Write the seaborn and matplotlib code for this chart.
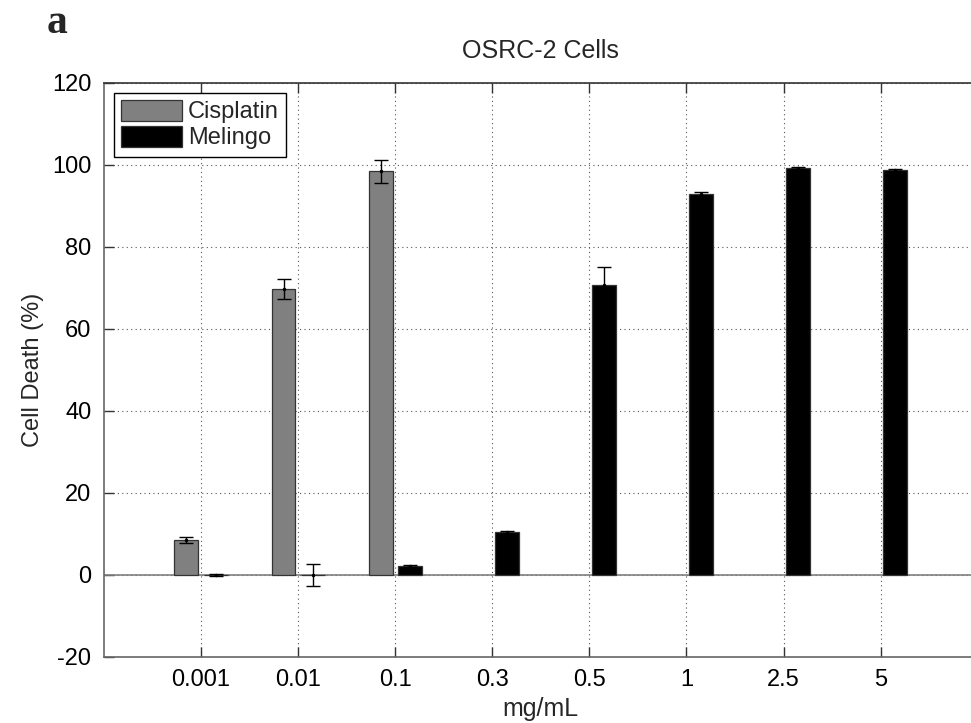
import numpy as np
import pandas as pd
import matplotlib
matplotlib.use("Agg")
import matplotlib.pyplot as plt
import seaborn as sns

# data
conc = ["0.001", "0.01", "0.1", "0.3", "0.5", "1", "2.5", "5"]
drugs = ["Cisplatin", "Melingo"]
cisplatin = [8.5, 69.8, 98.4, np.nan, np.nan, np.nan, np.nan, np.nan]
cisplatin_err = [0.7, 2.4, 2.8, np.nan, np.nan, np.nan, np.nan, np.nan]
melingo = [0.0, 0.05, 2.2, 10.4, 70.8, 92.8, 99.2, 98.7]
melingo_err = [0.15, 2.75, 0.25, 0.3, 4.3, 0.5, 0.3, 0.3]
colors = {"Cisplatin": "#808080", "Melingo": "#000000"}

df = pd.DataFrame({
    "conc": conc * 2,
    "drug": ["Cisplatin"] * len(conc) + ["Melingo"] * len(conc),
    "value": cisplatin + melingo,
})
errs = {"Cisplatin": dict(zip(conc, cisplatin_err)), "Melingo": dict(zip(conc, melingo_err))}

sns.set_style("ticks")
plt.rcParams["font.family"] = ["Liberation Sans", "DejaVu Sans"]
plt.rcParams["axes.unicode_minus"] = False

fig = plt.figure(figsize=(9.71, 7.23), dpi=100)
ax = fig.add_axes([0.107, 0.0913, 0.900, 0.794])

sns.barplot(data=df, x="conc", y="value", hue="drug", order=conc, hue_order=drugs,
            palette=colors, width=0.6, gap=0.18, errorbar=None,
            edgecolor="#333333", linewidth=0.9, ax=ax, zorder=3)

# error bars at the bar centres that seaborn placed
for drug, cont in zip(drugs, ax.containers):
    for patch in cont.patches:
        h = patch.get_height()
        if np.isnan(h):
            continue
        xc = patch.get_x() + patch.get_width() / 2
        cat = conc[int(round(xc))]
        ax.errorbar(xc, h, yerr=errs[drug][cat], fmt=".", color="black",
                    markersize=3, markerfacecolor="black", markeredgecolor="black",
                    elinewidth=1.0, capsize=5, capthick=1.0, zorder=4)

ax.axhline(0, color="#808080", linewidth=1.2, zorder=2)

ax.set_xlim(-1, len(conc))
ax.set_ylim(-20, 120)
ax.set_yticks(np.arange(-20, 121, 20))
ax.grid(True, linestyle=(0, (1, 3)), color="#555555", linewidth=0.8, zorder=0)
ax.set_axisbelow(True)

for side in ["top", "bottom", "left", "right"]:
    ax.spines[side].set_color("#666666")
    ax.spines[side].set_linewidth(1.2)
ax.spines["top"].set_color("#333333")

ax.tick_params(direction="in", length=7, width=1, top=True, right=False,
               color="#333333", labelsize=17, labelcolor="black", pad=9)

ax.set_title("OSRC-2 Cells", fontsize=18, pad=18)
ax.set_xlabel("mg/mL", fontsize=18, labelpad=4)
ax.set_ylabel("Cell Death (%)", fontsize=17, labelpad=6)

handles, labels = ax.get_legend_handles_labels()
ax.legend(handles, labels, loc="upper left", bbox_to_anchor=(0.011, 0.983),
          borderaxespad=0, fontsize=17, fancybox=False, framealpha=1,
          edgecolor="black", handlelength=2.6, handleheight=1.0,
          handletextpad=0.25, labelspacing=0.1, borderpad=0.3)

fig.text(0.048, 0.955, "a", family="Liberation Serif", fontweight="bold", fontsize=30)

fig.savefig("out.png", dpi=100)
